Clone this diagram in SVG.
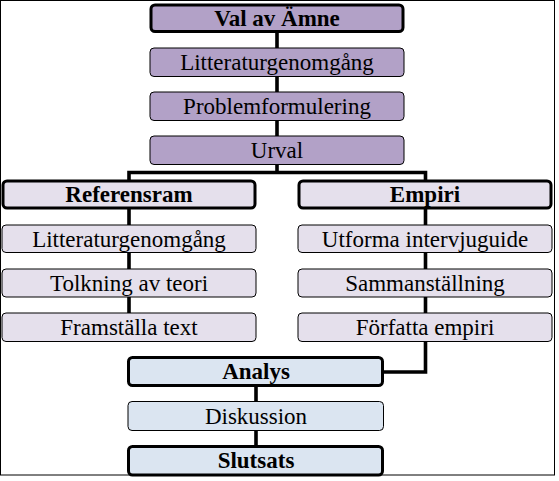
<svg xmlns="http://www.w3.org/2000/svg" width="559" height="481" viewBox="0 0 559 481">
<style>
.frame{fill:#fff;stroke:#000;stroke-width:1}
.con{fill:none;stroke:#000;stroke-width:3.6;stroke-linecap:square}
.thick{stroke:#000;stroke-width:3}
.thin{stroke:#000;stroke-width:1}
.p1{fill:#B2A1C7}
.p2{fill:#E5E0EC}
.b1{fill:#DBE5F1}
text{font-family:"Liberation Serif","Times New Roman",serif;font-size:23px;text-anchor:middle;fill:#000}
.bold{font-weight:bold}
</style>
<rect class="frame" x="0.5" y="0.5" width="554" height="474.5"/>
<g id="connectors">
<path class="con" d="M277 33 V172.5 M129 172.5 H425.5 M129 172.5 V312 M425.5 172.5 V372 H384 M256 387 V445"/>
</g>
<g id="val"><rect class="thick p1" x="151" y="5" width="252" height="26.5" rx="4"/><text class="bold" x="277" y="26">Val av Ämne</text></g>
<g id="litt1"><rect class="thin p1" x="150" y="48" width="254" height="28.5" rx="4"/><text x="277" y="70">Litteraturgenomgång</text></g>
<g id="prob"><rect class="thin p1" x="150" y="92" width="254" height="28.5" rx="4"/><text x="277" y="114">Problemformulering</text></g>
<g id="urval"><rect class="thin p1" x="150" y="136" width="254" height="28.5" rx="4"/><text x="277" y="158">Urval</text></g>
<g id="ref"><rect class="thick p2" x="3" y="181" width="252" height="27" rx="4"/><text class="bold" x="129" y="202">Referensram</text></g>
<g id="emp"><rect class="thick p2" x="299" y="181" width="252" height="27" rx="4"/><text class="bold" x="425" y="202">Empiri</text></g>
<g id="litt2"><rect class="thin p2" x="2" y="225" width="254" height="27.5" rx="4"/><text x="129" y="247">Litteraturgenomgång</text></g>
<g id="tolk"><rect class="thin p2" x="2" y="269" width="254" height="28" rx="4"/><text x="129" y="291">Tolkning av teori</text></g>
<g id="fram"><rect class="thin p2" x="2" y="313" width="254" height="28.5" rx="4"/><text x="129" y="335">Framställa text</text></g>
<g id="utf"><rect class="thin p2" x="298" y="225" width="254" height="27.5" rx="4"/><text x="425" y="247">Utforma intervjuguide</text></g>
<g id="samm"><rect class="thin p2" x="298" y="269" width="254" height="28" rx="4"/><text x="425" y="291">Sammanställning</text></g>
<g id="forf"><rect class="thin p2" x="298" y="313" width="254" height="28.5" rx="4"/><text x="425" y="335">Författa empiri</text></g>
<g id="analys"><rect class="thick b1" x="128.5" y="357.5" width="254" height="28" rx="4"/><text class="bold" x="256" y="379">Analys</text></g>
<g id="disk"><rect class="thin b1" x="128" y="401.5" width="255.5" height="29" rx="4"/><text x="256" y="424">Diskussion</text></g>
<g id="slut"><rect class="thick b1" x="128.5" y="446.5" width="254" height="28.5" rx="4"/><text class="bold" x="256" y="468">Slutsats</text></g>
</svg>
